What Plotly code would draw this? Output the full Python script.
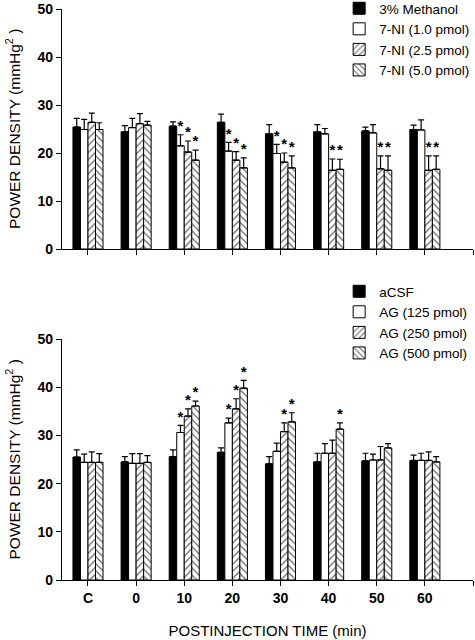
import plotly.graph_objects as go

categories = ["C", "0", "10", "20", "30", "40", "50", "60"]

# Top panel (7-NI)
top_names = ["3% Methanol", "7-NI (1.0 pmol)", "7-NI (2.5 pmol)", "7-NI (5.0 pmol)"]
methanol = [25.4, 24.4, 25.6, 26.4, 24.0, 24.4, 24.6, 24.9]
methanol_err = [1.8, 1.3, 0.9, 1.7, 1.9, 1.5, 0.8, 0.9]
ni_10 = [24.9, 25.3, 21.5, 20.4, 19.9, 24.0, 24.2, 24.8]
ni_10_err = [2.1, 1.9, 2.3, 1.8, 1.9, 1.1, 1.7, 2.1]
ni_25 = [26.4, 26.1, 20.2, 18.5, 18.1, 16.4, 16.7, 16.4]
ni_25_err = [1.9, 2.1, 2.3, 1.8, 1.9, 2.35, 2.7, 3.0]
ni_50 = [24.9, 25.8, 18.5, 16.9, 16.9, 16.6, 16.4, 16.6]
ni_50_err = [1.4, 0.8, 2.1, 2.1, 2.5, 2.1, 3.0, 2.8]
top_stars = [[], [2, 3, 4], [2, 3, 4, 5, 6, 7], [2, 3, 4, 5, 6, 7]]

# Bottom panel (AG)
bot_names = ["aCSF", "AG (125 pmol)", "AG (250 pmol)", "AG (500 pmol)"]
acsf = [25.5, 24.5, 25.6, 26.5, 24.1, 24.5, 24.7, 24.8]
acsf_err = [1.5, 1.1, 1.4, 0.9, 1.5, 1.8, 1.6, 1.1]
ag_125 = [24.4, 24.2, 30.6, 32.6, 26.7, 26.3, 24.9, 24.8]
ag_125_err = [1.7, 2.0, 1.5, 1.0, 1.7, 2.0, 1.2, 1.5]
ag_250 = [24.4, 24.2, 34.0, 35.5, 30.8, 26.3, 24.9, 24.8]
ag_250_err = [2.2, 2.0, 1.5, 2.1, 1.8, 2.7, 2.8, 1.8]
ag_500 = [24.4, 24.4, 36.1, 39.8, 32.8, 31.3, 27.4, 24.5]
ag_500_err = [1.8, 1.4, 1.0, 1.6, 1.9, 1.3, 0.9, 1.1]
bot_stars = [[], [2, 3], [2, 3, 4], [2, 3, 4, 5]]

y_ticks = [0, 10, 20, 30, 40, 50]
x_title = "POSTINJECTION TIME (min)"
y_title = "POWER DENSITY (mmHg<sup>2</sup> )"

FONT = "Liberation Sans, Arial, sans-serif"
W, H = 475, 640
xpos = list(range(len(categories)))
n_series = 4
bargap = 0.375
bar_w = (1 - bargap) / n_series
offsets = [(-(1 - bargap) / 2 + bar_w * (j + 0.5)) for j in range(n_series)]

styles = [
    dict(color="black", pattern=dict(shape="")),
    dict(color="white", pattern=dict(shape="")),
    dict(color="white", pattern=dict(shape="/", fgcolor="black", bgcolor="white", size=5, solidity=0.3)),
    dict(color="white", pattern=dict(shape="\\", fgcolor="black", bgcolor="white", size=5, solidity=0.3)),
]

fig = go.Figure()


def add_panel(names, vals, errs, stars, xa, ya, legend):
    for j in range(n_series):
        st = styles[j]
        fig.add_trace(go.Bar(
            x=xpos, y=vals[j], name=names[j], xaxis=xa, yaxis=ya, legend=legend,
            marker=dict(color=st["color"], line=dict(color="black", width=1),
                        pattern=st["pattern"]),
            error_y=dict(type="data", array=errs[j], arrayminus=[0] * len(errs[j]),
                         symmetric=False, color="black", thickness=1.2, width=3),
        ))
    for j in range(n_series):
        if not stars[j]:
            continue
        sx = [xpos[i] + offsets[j] for i in stars[j]]
        sy = [vals[j][i] + errs[j][i] for i in stars[j]]
        fig.add_trace(go.Scatter(
            x=sx, y=sy, mode="text", text=["*"] * len(sx), textposition="top center",
            textfont=dict(family=FONT, size=15, color="black", weight="bold"),
            xaxis=xa, yaxis=ya, showlegend=False, hoverinfo="skip",
        ))


add_panel(top_names, [methanol, ni_10, ni_25, ni_50],
          [methanol_err, ni_10_err, ni_25_err, ni_50_err], top_stars, "x", "y", "legend")
add_panel(bot_names, [acsf, ag_125, ag_250, ag_500],
          [acsf_err, ag_125_err, ag_250_err, ag_500_err], bot_stars, "x2", "y2", "legend2")

xdom = [62 / W, 473 / W]
top_dom = [1 - 249 / H, 1 - 9 / H]
bot_dom = [1 - 580 / H, 1 - 339 / H]

xaxis_common = dict(
    range=[-0.54, 8.0], domain=xdom, showline=True, linecolor="black", linewidth=1.2,
    ticks="outside", ticklen=5, tickcolor="black", tickwidth=1.2,
    tickmode="array", tickvals=xpos, showgrid=False, zeroline=False, automargin=False,
    minor=dict(tickvals=[len(categories)], ticks="outside", ticklen=5,
               tickcolor="black", tickwidth=1.2, showgrid=False),
    tickfont=dict(family=FONT, size=14, color="black", weight="bold"),
)
yaxis_common = dict(
    range=[0, 50], tickvals=y_ticks, showline=True, linecolor="black", linewidth=1.2,
    ticks="outside", ticklen=5, tickcolor="black", tickwidth=1.2,
    showgrid=False, zeroline=False, automargin=False,
    tickfont=dict(family=FONT, size=14, color="black", weight="bold"),
)

for dom in (top_dom, bot_dom):
    fig.add_annotation(
        text=y_title, xref="paper", yref="paper", x=13 / W, y=(dom[0] + dom[1]) / 2,
        xanchor="center", yanchor="middle", textangle=-90, showarrow=False,
        font=dict(family=FONT, size=15.5, color="black"),
    )

fig.update_layout(
    width=W, height=H, margin=dict(l=0, r=0, t=0, b=0, autoexpand=False),
    paper_bgcolor="white", plot_bgcolor="white",
    barmode="group", bargap=bargap, bargroupgap=0,
    xaxis=dict(**xaxis_common, anchor="y", showticklabels=False),
    yaxis=dict(**yaxis_common, domain=top_dom, anchor="x"),
    xaxis2=dict(**xaxis_common, anchor="y2", ticktext=categories,
                title=dict(text=x_title, font=dict(family=FONT, size=15, color="black"), standoff=20)),
    yaxis2=dict(**yaxis_common, domain=bot_dom, anchor="x2"),
    legend=dict(x=0.714, y=1 + 7 / H, xanchor="left", yanchor="top", bgcolor="rgba(0,0,0,0)",
                font=dict(family=FONT, size=13.5, color="black"), tracegroupgap=0),
    legend2=dict(x=0.714, y=1 - 276 / H, xanchor="left", yanchor="top", bgcolor="rgba(0,0,0,0)",
                 font=dict(family=FONT, size=13.5, color="black"), tracegroupgap=0),
    showlegend=True,
)

fig.write_html("out.html", config={"displayModeBar": False},
               post_script="document.body.style.margin='0';document.body.style.overflow='hidden';")
